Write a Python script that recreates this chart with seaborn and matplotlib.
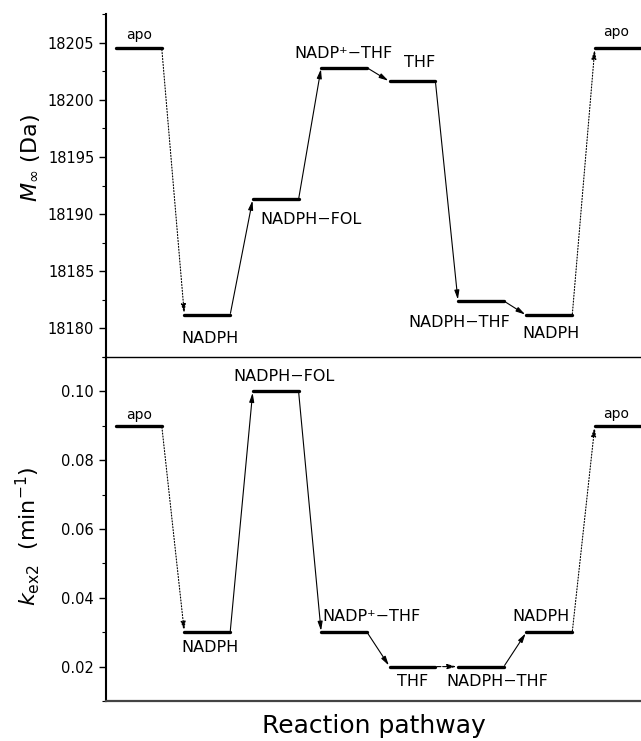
import numpy as np
import pandas as pd
import matplotlib
matplotlib.use("Agg")
import matplotlib.pyplot as plt
import seaborn as sns
from matplotlib.ticker import MultipleLocator

# ---- data ----
states = ["apo", "NADPH", "NADPH−FOL", "NADP⁺−THF", "THF", "NADPH−THF", "NADPH", "apo"]
mass_da = [18204.5, 18181.2, 18191.3, 18202.8, 18201.6, 18182.4, 18181.15, 18204.5]
kex2 = [0.090, 0.030, 0.100, 0.030, 0.020, 0.020, 0.030, 0.090]
top_arrow_styles = [":", "-", "-", "-", "-", "-", ":"]
bot_arrow_styles = [":", "-", "-", "-", "--", "-", ":"]

# ---- layout (label offsets: index shift, pixel shift) ----
top_lab_dx = [0.0, 0.04, 0.51, -0.01, 0.10, -0.31, 0.03, -0.02]
top_lab_dy = [13, -24, -20, 14, 19, -22, -18, 16]
bot_lab_dx = [0.0, 0.04, 0.12, 0.40, 0.0, 0.24, -0.12, -0.02]
bot_lab_dy = [11, -15, 15, 16, -15, -15, 16, 12]
HW = 0.335

sns.set_theme(style="ticks")
plt.rcParams["font.family"] = ["DejaVu Sans"]
plt.rcParams["mathtext.fontset"] = "dejavusans"
plt.rcParams["text.color"] = "black"
plt.rcParams["axes.labelcolor"] = "black"
plt.rcParams["ytick.color"] = "black"
plt.rcParams["xtick.color"] = "black"

W, H = 641, 741
fig = plt.figure(figsize=(W / 100, H / 100), dpi=100)
ax2 = fig.add_axes([106 / W, (H - 701) / H, (W - 106) / W, (701 - 357) / H])
ax1 = fig.add_axes([106 / W, (H - 357) / H, (W - 106) / W, (357 - 14) / H])
ax1.patch.set_alpha(0)
ax2.patch.set_alpha(0)


def draw(ax, vals, styles, ldx, ldy):
    n = len(vals)
    seg = pd.DataFrame({
        "x": np.concatenate([[i - HW, i + HW] for i in range(n)]),
        "y": np.repeat(vals, 2),
        "seg": np.repeat(np.arange(n), 2),
    })
    sns.lineplot(data=seg, x="x", y="y", units="seg", estimator=None,
                 color="black", lw=2.4, ax=ax, legend=False)
    for i in range(n - 1):
        ax.annotate("", xy=(i + 1 - HW, vals[i + 1]), xytext=(i + HW, vals[i]),
                    arrowprops=dict(arrowstyle="-|>,head_length=0.45,head_width=0.12",
                                    lw=0.8, linestyle=styles[i], color="black",
                                    shrinkA=1, shrinkB=1))
    for i in range(n):
        fs = 10 if states[i] == "apo" else 11.5
        ax.annotate(states[i], xy=(i + ldx[i], vals[i]), xytext=(0, ldy[i]),
                    textcoords="offset pixels", ha="center", va="center",
                    fontsize=fs, color="black")
    ax.set_xlim(-0.48, 7.34)
    ax.set_xticks([])
    ax.set_xlabel("")
    for s in ["top", "right"]:
        ax.spines[s].set_visible(False)
    ax.tick_params(axis="y", which="major", direction="out", length=5, width=1,
                   labelsize=10.5, colors="black")
    ax.tick_params(axis="y", which="minor", direction="out", length=3, width=0.8,
                   colors="black")
    ax.spines["left"].set_linewidth(1.5)
    ax.spines["left"].set_color("black")


draw(ax1, mass_da, top_arrow_styles, top_lab_dx, top_lab_dy)
ax1.set_ylim(18177.5, 18207.5)
ax1.yaxis.set_major_locator(MultipleLocator(5))
ax1.yaxis.set_minor_locator(MultipleLocator(2.5))
ax1.yaxis.set_major_formatter(matplotlib.ticker.FormatStrFormatter("%d"))
ax1.spines["bottom"].set_linewidth(1.0)
ax1.spines["bottom"].set_color("black")
ax1.spines["bottom"].set_zorder(5)
ax1.set_ylabel(r"$M_{\infty}$ (Da)", fontsize=16, color="black")
ax1.yaxis.set_label_coords(-0.12, 0.58)

draw(ax2, kex2, bot_arrow_styles, bot_lab_dx, bot_lab_dy)
ax2.set_ylim(0.01, 0.11)
ax2.yaxis.set_major_locator(MultipleLocator(0.02))
ax2.yaxis.set_minor_locator(MultipleLocator(0.01))
ax2.yaxis.set_major_formatter(matplotlib.ticker.FormatStrFormatter("%.2f"))
ax2.spines["bottom"].set_linewidth(1.6)
ax2.spines["bottom"].set_color("#444444")
ax2.set_ylabel(r"$k_{\mathrm{ex2}}$  (min$^{-1}$)", fontsize=16, color="black")
ax2.yaxis.set_label_coords(-0.12, 0.48)
ax2.set_xlabel("Reaction pathway", fontsize=18, labelpad=9, color="black")

fig.savefig("out.png", dpi=100)
